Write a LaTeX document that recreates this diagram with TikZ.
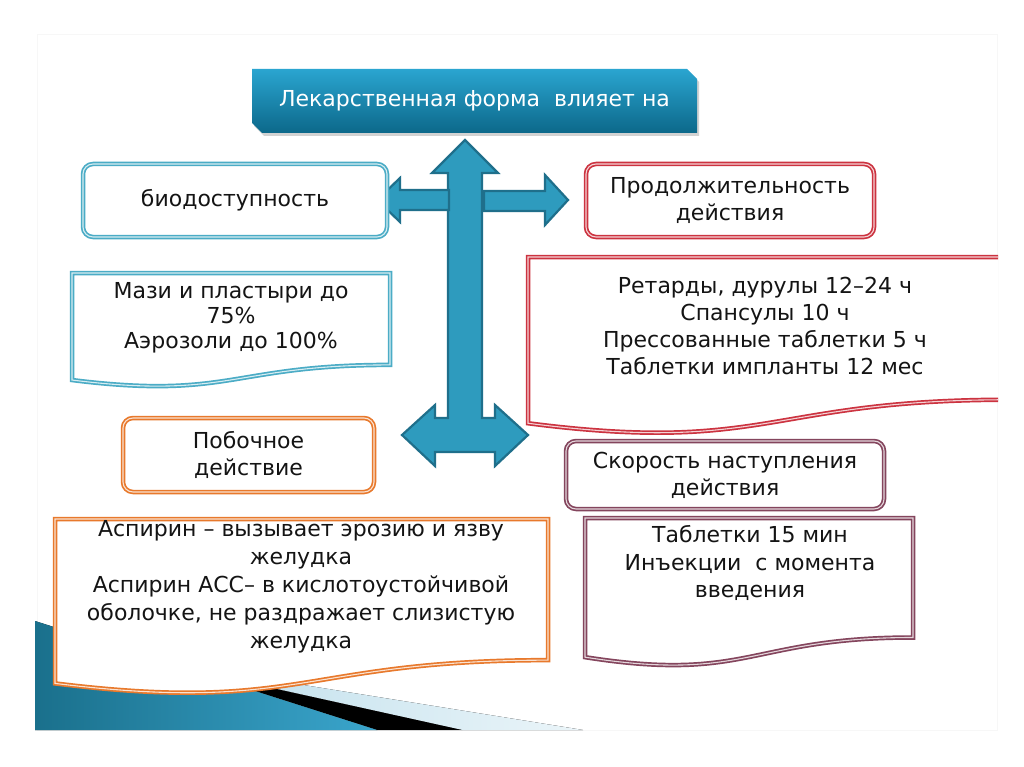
\documentclass[tikz,border=0pt]{standalone}
\usepackage{fontspec}
\setmainfont{DejaVu Sans}
\usetikzlibrary{shadows}
\definecolor{tealB}{HTML}{4BACC6}
\definecolor{redB}{HTML}{CC3340}
\definecolor{orangeB}{HTML}{E8792C}
\definecolor{maroonB}{HTML}{84455D}
\definecolor{arrowF}{HTML}{2E9BBE}
\definecolor{arrowD}{HTML}{1F6F8B}
\definecolor{txt}{HTML}{141414}
\newcommand\docpath[4]{(#1,#2) -- (#3,#2) -- (#3,{#2+0.802*#4}) .. controls ({(#1+#3)/2},{#2+0.802*#4}) and ({(#1+#3)/2},{#2+1.107*#4}) .. (#1,{#2+0.934*#4}) -- cycle}
\tikzset{
  rbox/.style={draw=#1, double=#1!22, double distance=1.1pt, line width=1.7pt,
    rounded corners=10pt, fill=white, align=center, inner sep=0pt, text=txt,
    drop shadow={opacity=0.15, shadow xshift=1.5pt, shadow yshift=-1.5pt}},
  dbox/.style={draw=#1, double=#1!22, double distance=1.1pt, line width=1.7pt,
    fill=white, drop shadow={opacity=0.15, shadow xshift=1.5pt, shadow yshift=-1.5pt}},
  tbox/.style={align=center, inner sep=0pt, text=txt},
  arrowst/.style={fill=arrowF, draw=arrowD, line width=2.2pt, line join=miter},
}
\begin{document}
\begin{tikzpicture}[x=1pt,y=-1pt, font=\fontsize{22}{27}\selectfont]
\useasboundingbox (0,0) rectangle (1024,767);
\fill[white] (0,0) rectangle (1024,767);
\draw[black!3, line width=1pt] (37,35) rectangle (997,730);

% bottom-left decoration
\fill[left color={rgb,255:red,185;green,220;blue,234}, right color={rgb,255:red,235;green,245;blue,249}] (142,659) -- (583,730) -- (462,730) -- cycle;
\fill[black] (186,669) -- (462,730) -- (377,730) -- cycle;
\fill[left color={rgb,255:red,26;green,112;blue,140}, right color={rgb,255:red,58;green,165;blue,204}] (35,621) -- (377,730) -- (35,730) -- cycle;

% title
\path[top color={rgb,255:red,42;green,165;blue,208}, bottom color={rgb,255:red,12;green,104;blue,138},
  drop shadow={opacity=0.35, shadow xshift=2pt, shadow yshift=-3pt}]
  (252,69) -- (687,69) -- (697,79) -- (697,133) -- (262,133) -- (252,123) -- cycle;
\node[text=white, inner sep=0pt] (title) at (474.5,101) {Лекарственная форма\ \ влияет на};

% central arrows
\filldraw[arrowst] (465,140) -- (498,173) -- (482,173) -- (482,418) -- (495,418) -- (495,405) -- (528,435) -- (495,466) -- (495,452) -- (435,452) -- (435,466) -- (402,435) -- (435,405) -- (435,418) -- (448,418) -- (448,173) -- (432,173) -- cycle;
\filldraw[arrowst] (377,200) -- (400,178) -- (400,190) -- (449,190) -- (449,210) -- (400,210) -- (400,222) -- cycle;
\filldraw[arrowst] (568,200) -- (545,175) -- (545,191) -- (484,191) -- (484,211) -- (545,211) -- (545,225) -- cycle;

% rounded boxes
\node[rbox=tealB, minimum width=304pt, minimum height=73pt] (bio) at (235,200.5) {биодоступность};
\node[rbox=redB, minimum width=288pt, minimum height=73pt] (prod) at (730,200.5) {Продолжительность\\действия};
\node[rbox=orangeB, minimum width=251pt, minimum height=74pt] (pob) at (248.5,455) {Побочное\\действие};
\node[rbox=maroonB, minimum width=318pt, minimum height=68pt] (skor) at (725,475) {Скорость наступления\\действия};

% document boxes
\draw[dbox=tealB] \docpath{72}{273}{390}{114.6};
\node[tbox, font=\fontsize{22}{25}\selectfont] (mazi) at (231,318) {Мази и пластыри до\\75\%\\Аэрозоли до 100\%};

\begin{scope}
\clip (0,0) rectangle (998,767);
\draw[dbox=redB] \docpath{528}{257}{1008}{178};
\end{scope}
\node[tbox, font=\fontsize{22}{27.3}\selectfont] (ret) at (765,326) {Ретарды, дурулы 12–24 ч\\Спансулы 10 ч\\Прессованные таблетки 5 ч\\Таблетки импланты 12 мес};

\draw[dbox=maroonB] \docpath{585}{518}{913}{149};
\node[tbox, font=\fontsize{22}{27.5}\selectfont] (tab) at (750,563) {Таблетки 15 мин\\Инъекции\ \ с момента\\введения};

\draw[dbox=orangeB] \docpath{55}{519}{548}{176};
\node[tbox, font=\fontsize{22}{28}\selectfont] (asp) at (301,587) {Аспирин – вызывает эрозию и язву\\желудка\\Аспирин АСС– в кислотоустойчивой\\оболочке, не раздражает слизистую\\желудка};
\end{tikzpicture}
\end{document}
